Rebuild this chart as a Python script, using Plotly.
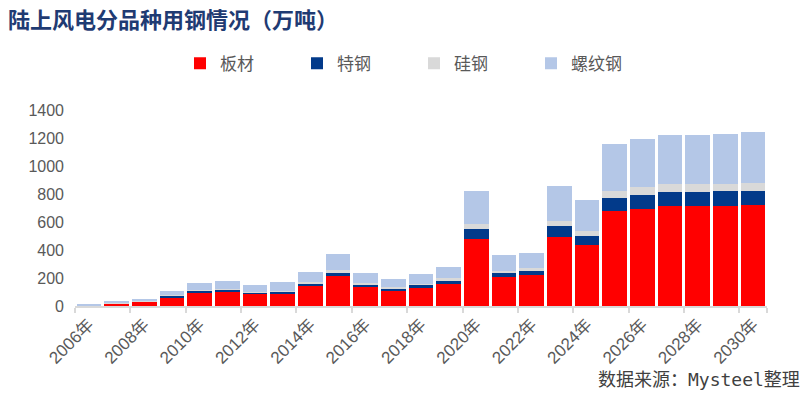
import plotly.graph_objects as go

years = [f"{y}年" for y in range(2006, 2031)]
tick_labels = [f"{y}年" for y in range(2006, 2031, 2)]

banc = [3, 18, 30, 60, 95, 105, 90, 92, 142, 216, 137, 109, 130, 159, 476, 206, 220, 493, 436, 678, 692, 711, 711, 711, 725]
tegang = [1, 2, 3, 12, 13, 14, 8, 12, 21, 26, 19, 19, 21, 21, 71, 31, 28, 76, 62, 90, 104, 100, 100, 107, 100]
guigang = [2, 2, 2, 5, 5, 4, 3, 5, 5, 12, 9, 9, 9, 17, 36, 14, 24, 36, 36, 52, 52, 57, 57, 50, 57]
luowen = [5, 10, 15, 30, 53, 57, 51, 62, 73, 116, 69, 55, 66, 80, 242, 111, 104, 249, 220, 339, 346, 355, 355, 363, 363]

series = [
    ("板材", banc, "#FF0000"),
    ("特钢", tegang, "#023A8A"),
    ("硅钢", guigang, "#D9D9D9"),
    ("螺纹钢", luowen, "#B4C7E7"),
]

fig = go.Figure()
for name, vals, color in series:
    fig.add_trace(go.Bar(x=years, y=vals, name=name, marker=dict(color=color, line=dict(width=0))))

L, R, T, B = 75, 43, 109.5, 91.5
W, H = 810, 398
pw = W - L - R
ph = H - T - B

fig.update_layout(
    width=W, height=H,
    barmode="stack",
    bargap=0.11,
    plot_bgcolor="white",
    paper_bgcolor="white",
    margin=dict(l=L, r=R, t=T, b=B, autoexpand=False),
    font=dict(family="Liberation Sans, Arial, Noto Sans CJK SC", color="#595959"),
    title=dict(
        text="<b>陆上风电分品种用钢情况（万吨）</b>",
        x=8 / W, xanchor="left", xref="container",
        y=1 - 20 / H, yanchor="middle", yref="container",
        font=dict(family="Noto Sans CJK SC", size=22, color="#1F3B73"),
    ),
    legend=dict(
        orientation="h",
        x=(180 - L) / pw, xanchor="left",
        y=(H - B - 63) / ph, yanchor="middle",
        entrywidth=72, entrywidthmode="pixels",
        itemwidth=30,
        font=dict(family="Noto Sans CJK SC", size=17, color="#595959"),
        traceorder="normal",
        bgcolor="rgba(0,0,0,0)",
    ),
    showlegend=True,
    xaxis=dict(
        type="category",
        tickmode="array",
        tickvals=tick_labels,
        ticktext=tick_labels,
        tickson="boundaries",
        ticks="outside",
        ticklen=5,
        tickwidth=2,
        tickcolor="#D9D9D9",
        showline=True,
        linecolor="#D9D9D9",
        linewidth=2,
        showgrid=False,
        tickangle=-45,
        tickfont=dict(family="Liberation Sans, Noto Sans CJK SC", size=17, color="#595959"),
        range=[-0.5, 24.5],
    ),
    yaxis=dict(
        range=[0, 1400],
        tickvals=[0, 200, 400, 600, 800, 1000, 1200, 1400],
        showgrid=False,
        showline=False,
        zeroline=False,
        ticks="",
        ticklabelstandoff=10,
        tickfont=dict(family="Liberation Sans", size=16, color="#595959"),
    ),
    annotations=[
        dict(
            text="数据来源：Mysteel整理",
            xref="paper", yref="paper",
            x=(802 - L) / pw, xanchor="right",
            y=(H - B - 380) / ph, yanchor="middle",
            showarrow=False,
            font=dict(family="DejaVu Sans Mono, Noto Sans CJK SC", size=18, color="#404040"),
        )
    ],
)

fig.write_html(
    "out.html",
    config={"displayModeBar": False},
    post_script="document.body.style.margin='0';document.body.style.padding='0';document.body.style.overflow='hidden';",
)
